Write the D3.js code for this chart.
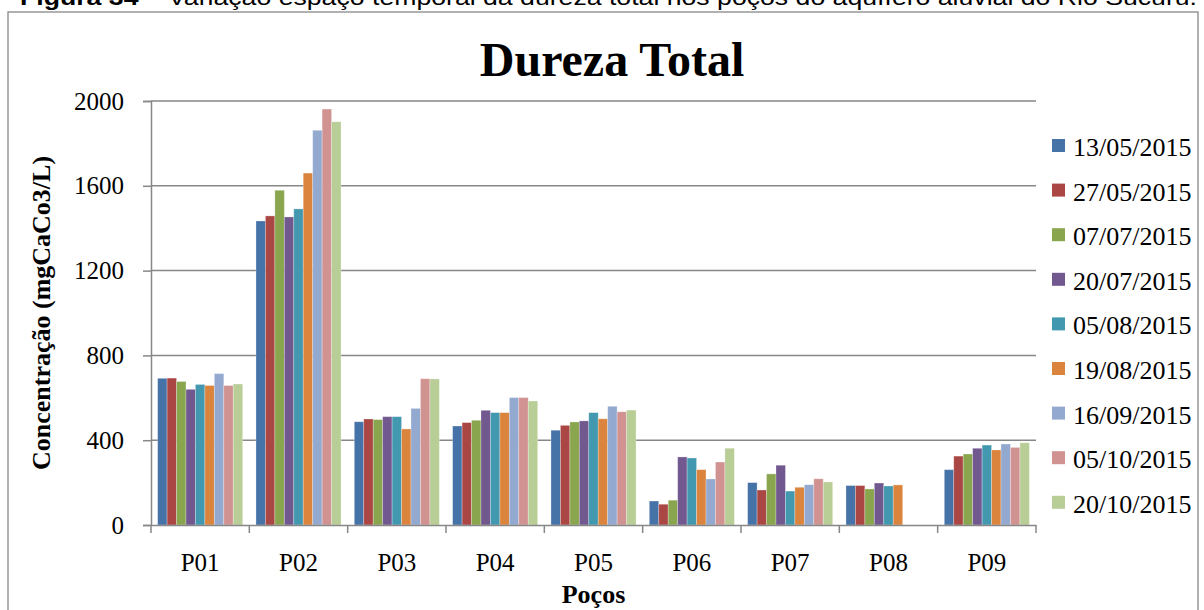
<!DOCTYPE html>
<html>
<head>
<meta charset="utf-8">
<script src="https://cdn.jsdelivr.net/npm/d3@7"></script>
<style>
  body { margin: 0; background: #fff; }
  svg { display: block; }
</style>
</head>
<body>
<div id="chart"></div>
<script>
// Dureza total por poço, uma série por data de coleta

const width = 1204, height = 610;

const wells = ["P01", "P02", "P03", "P04", "P05", "P06", "P07", "P08", "P09"];
const dates = ["13/05/2015", "27/05/2015", "07/07/2015", "20/07/2015", "05/08/2015",
               "19/08/2015", "16/09/2015", "05/10/2015", "20/10/2015"];
const yTicks = [0, 400, 800, 1200, 1600, 2000];

// valores lidos por poço, na ordem das datas
const p01 = [692, 693, 677, 640, 663, 658, 714, 658, 665];
const p02 = [1434, 1458, 1579, 1453, 1491, 1660, 1862, 1962, 1902];
const p03 = [487, 500, 497, 511, 511, 453, 550, 690, 689];
const p04 = [467, 483, 494, 541, 530, 530, 601, 601, 585];
const p05 = [447, 470, 486, 491, 530, 501, 560, 534, 542];
const p06 = [113, 98, 117, 321, 316, 261, 217, 297, 362];
const p07 = [200, 165, 241, 282, 160, 178, 190, 218, 203];
const p08 = [186, 186, 170, 198, 184, 189, null, null, null];
const p09 = [261, 325, 335, 362, 377, 354, 382, 366, 388];
const wellValues = [p01, p02, p03, p04, p05, p06, p07, p08, p09];

const colors = ["#4572A7", "#AA4643", "#89A54E", "#71588F", "#4198AF",
                "#DB843D", "#93A9CF", "#D19392", "#B9CD96"];

const serif = "'Liberation Serif', 'Times New Roman', serif";

const margin = { top: 101, right: 168, bottom: 85, left: 151 };
const plotRight = width - margin.right;
const plotBottom = height - margin.bottom;

const svg = d3.select("#chart")
    .append("svg")
    .attr("width", width)
    .attr("height", height);

// legenda da figura (cortada no topo, como no original)
svg.append("text")
    .attr("x", 20)
    .attr("y", 5)
    .attr("textLength", 1177)
    .attr("lengthAdjust", "spacingAndGlyphs")
    .style("font-family", "'Liberation Sans', Arial, sans-serif")
    .style("font-size", "22px")
    .html("<tspan font-weight='bold'>Figura 34</tspan> – Variação espaço temporal da dureza total nos poços do aquífero aluvial do Rio Sucuru.");

// borda do gráfico
svg.append("rect")
    .attr("x", 8)
    .attr("y", 12)
    .attr("width", 1190)
    .attr("height", 620)
    .attr("fill", "none")
    .attr("stroke", "#888")
    .attr("stroke-width", 1.3);

const x0 = d3.scaleBand()
    .domain(wells)
    .range([margin.left, plotRight])
    .paddingInner(0.135)
    .paddingOuter(0.0675);

const x1 = d3.scaleBand()
    .domain(dates)
    .range([0, x0.bandwidth()]);

const y = d3.scaleLinear()
    .domain([0, 2000])
    .range([plotBottom, margin.top]);

const color = d3.scaleOrdinal()
    .domain(dates)
    .range(colors);

// linhas de grade
svg.append("g")
    .selectAll("line")
    .data(yTicks.slice(1))
    .enter().append("line")
    .attr("x1", margin.left)
    .attr("x2", plotRight)
    .attr("y1", d => y(d))
    .attr("y2", d => y(d))
    .attr("stroke", "#878787")
    .attr("stroke-width", 1.5);

// barras
svg.append("g")
    .selectAll("g")
    .data(wells)
    .enter().append("g")
    .attr("transform", d => `translate(${x0(d)},0)`)
    .selectAll("rect")
    .data((w, i) => dates.map((dt, j) => ({ date: dt, value: wellValues[i][j] }))
        .filter(d => d.value != null))
    .enter().append("rect")
    .attr("x", d => x1(d.date))
    .attr("y", d => y(d.value))
    .attr("width", x1.bandwidth())
    .attr("height", d => plotBottom - y(d.value))
    .attr("fill", d => color(d.date))
    .attr("stroke", "#fff")
    .attr("stroke-opacity", 0.35)
    .attr("stroke-width", 0.8);

// eixo y
const yAxis = svg.append("g")
    .attr("transform", `translate(${margin.left},0)`)
    .call(d3.axisLeft(y).tickValues(yTicks).tickFormat(d3.format("d")).tickSize(8).tickPadding(19));
yAxis.select(".domain").attr("stroke", "#878787").attr("stroke-width", 1.5);
yAxis.selectAll(".tick line").attr("stroke", "#878787").attr("stroke-width", 1.5);
yAxis.selectAll(".tick text")
    .attr("fill", "#000")
    .style("font-family", serif)
    .style("font-size", "25px");

// eixo x
const xAxis = svg.append("g")
    .attr("transform", `translate(0,${plotBottom})`)
    .call(d3.axisBottom(x0).tickSize(0).tickPadding(28));
xAxis.select(".domain").attr("stroke", "#878787").attr("stroke-width", 1.5);
xAxis.selectAll(".tick text")
    .attr("fill", "#000")
    .style("font-family", serif)
    .style("font-size", "25px");

// marcas entre categorias
xAxis.selectAll("line.sep")
    .data(d3.range(wells.length + 1))
    .enter().append("line")
    .attr("class", "sep")
    .attr("x1", i => margin.left + (plotRight - margin.left) * i / wells.length)
    .attr("x2", i => margin.left + (plotRight - margin.left) * i / wells.length)
    .attr("y1", 0)
    .attr("y2", 8)
    .attr("stroke", "#878787")
    .attr("stroke-width", 1.5);

// títulos
svg.append("text")
    .attr("x", 612)
    .attr("y", 76)
    .attr("text-anchor", "middle")
    .style("font-family", serif)
    .style("font-weight", "bold")
    .style("font-size", "48px")
    .text("Dureza Total");

svg.append("text")
    .attr("transform", "rotate(-90)")
    .attr("x", -313)
    .attr("y", 50)
    .attr("text-anchor", "middle")
    .style("font-family", serif)
    .style("font-weight", "bold")
    .style("font-size", "26px")
    .text("Concentração (mgCaCo3/L)");

svg.append("text")
    .attr("x", (margin.left + plotRight) / 2)
    .attr("y", 603)
    .attr("text-anchor", "middle")
    .style("font-family", serif)
    .style("font-weight", "bold")
    .style("font-size", "26px")
    .text("Poços");

// legenda das datas
const legend = svg.append("g")
    .attr("transform", "translate(1052,139)");

dates.forEach((dt, i) => {
    const row = legend.append("g")
        .attr("transform", `translate(0,${i * 44.6})`);
    row.append("rect")
        .attr("width", 13)
        .attr("height", 13)
        .attr("fill", color(dt));
    row.append("text")
        .attr("x", 21)
        .attr("y", 17)
        .style("font-family", serif)
        .style("font-size", "26px")
        .text(dt);
});
</script>
</body>
</html>
